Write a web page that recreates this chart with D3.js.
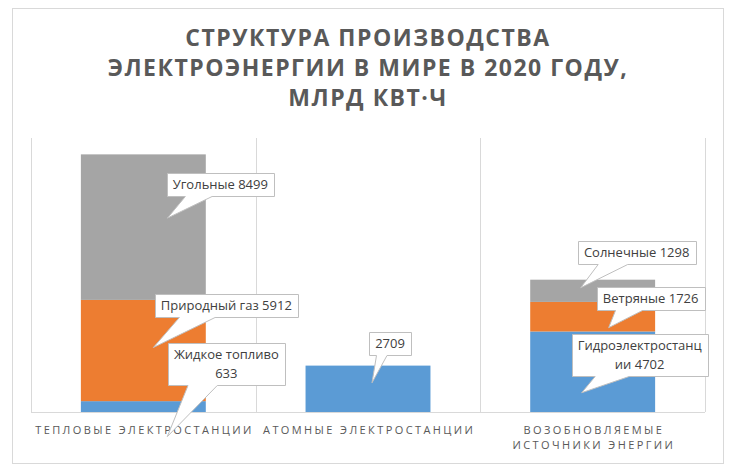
<html>
<head>
<meta charset="utf-8">
<script src="https://d3js.org/d3.v7.min.js"></script>
<style>
  body { margin: 0; background: white; }
  .title { font-family: "Open Sans"; font-weight: bold; font-size: 23px; fill: #595959; letter-spacing: 1.5px; }
  .cat { font-family: "Open Sans"; font-size: 11px; fill: #595959; letter-spacing: 2.4px; }
  .callout text { font-family: "Open Sans"; font-size: 13px; fill: #404040; }
  .callout path { fill: white; stroke: #bfbfbf; stroke-width: 1px; }
  .grid { stroke: #d9d9d9; stroke-width: 1px; }
</style>
</head>
<body>
<svg id="chart" width="736" height="471"></svg>
<script>
  // data
  const categories = ["ТЕПЛОВЫЕ ЭЛЕКТРОСТАНЦИИ", "АТОМНЫЕ ЭЛЕКТРОСТАНЦИИ", "ВОЗОБНОВЛЯЕМЫЕ ИСТОЧНИКИ ЭНЕРГИИ"];
  const categoryLines = [["ТЕПЛОВЫЕ ЭЛЕКТРОСТАНЦИИ"], ["АТОМНЫЕ ЭЛЕКТРОСТАНЦИИ"], ["ВОЗОБНОВЛЯЕМЫЕ", "ИСТОЧНИКИ ЭНЕРГИИ"]];
  const series1 = [633, 2709, 4702];   // blue
  const series2 = [5912, 0, 1726];     // orange
  const series3 = [8499, 0, 1298];     // grey
  const series1Names = ["Жидкое топливо", "", "Гидроэлектростанции"];
  const series2Names = ["Природный газ", "", "Ветряные"];
  const series3Names = ["Угольные", "", "Солнечные"];
  const titleLines = ["СТРУКТУРА ПРОИЗВОДСТВА", "ЭЛЕКТРОЭНЕРГИИ В МИРЕ В 2020 ГОДУ,", "МЛРД КВТ·Ч"];

  // label text as it wraps in the picture
  const labelLines = {
    "0-0": ["Жидкое топливо", "633"],
    "2-0": ["Гидроэлектростанц", "ии 4702"]
  };
  // callout placement: [box centre dx, dy, tip dx, dy] relative to segment centre
  const calloutOffsets = {
    "0-0": [83, -43, 24, 30],
    "0-1": [83, -45, 10, -3],
    "0-2": [77, -43, 24, -9],
    "1-0": [22, -45, 4, -6],
    "2-0": [47, -17, -11, 21],
    "2-1": [58, -18, 16, 11],
    "2-2": [44, -38, -12, -3]
  };

  const colors = ["#5b9bd5", "#ed7d31", "#a5a5a5"];
  const svg = d3.select("#chart");

  svg.append("rect")
    .attr("x", 12.5).attr("y", 8.5).attr("width", 711).attr("height", 455)
    .attr("fill", "white").attr("stroke", "#d9d9d9");

  svg.append("text").attr("class", "title")
    .attr("text-anchor", "middle")
    .selectAll("tspan").data(titleLines).join("tspan")
    .attr("x", 368).attr("y", (d, i) => 46 + i * 30)
    .text(d => d);

  const x = d3.scaleBand().domain(categories).range([31, 705]).paddingInner(0.444).paddingOuter(0.222);
  const y = d3.scaleLinear().domain([0, 16000]).range([412, 138]);

  // vertical separators between categories
  const bounds = [x.range()[0]].concat(categories.map(c => x(c) - x.step() * x.paddingOuter() + x.step()));
  svg.selectAll("line.grid").data(bounds).join("line")
    .attr("class", "grid")
    .attr("x1", d => Math.round(d) + 0.5).attr("x2", d => Math.round(d) + 0.5)
    .attr("y1", y(16000)).attr("y2", y(0));

  // stacked bars
  const rows = categories.map((c, i) => ({ cat: c, s1: series1[i], s2: series2[i], s3: series3[i] }));
  const stack = d3.stack().keys(["s1", "s2", "s3"])(rows);
  const names = [series1Names, series2Names, series3Names];

  svg.append("g").selectAll("g").data(stack).join("g")
    .attr("fill", (d, i) => colors[i])
    .selectAll("rect").data(d => d).join("rect")
    .attr("x", d => x(d.data.cat))
    .attr("width", x.bandwidth())
    .attr("y", d => y(d[1]))
    .attr("height", d => y(d[0]) - y(d[1]));

  svg.append("line").attr("class", "grid")
    .attr("x1", x.range()[0]).attr("x2", x.range()[1])
    .attr("y1", y(0) + 0.5).attr("y2", y(0) + 0.5);

  // category labels
  categories.forEach((c, i) => {
    svg.append("text").attr("class", "cat").attr("text-anchor", "middle")
      .selectAll("tspan").data(categoryLines[i]).join("tspan")
      .attr("x", x(c) + x.bandwidth() / 2 + 1.2)
      .attr("y", (d, j) => 434 + j * 15)
      .text(d => d);
  });

  // Excel-like wedge rectangle callout
  function wedgePath(l, t, w, h, tx, ty) {
    const r = l + w, b = t + h;
    const dx = tx - (l + w / 2), dy = ty - (t + h / 2);
    const dz = Math.abs(dy) - Math.abs(dx * h / w);
    const x1 = l + w * (dx > 0 ? 7 : 2) / 12, x2 = l + w * (dx > 0 ? 10 : 5) / 12;
    const y1 = t + h * (dy > 0 ? 7 : 2) / 12, y2 = t + h * (dy > 0 ? 10 : 5) / 12;
    let p = [[l, t]];
    if (dz > 0 && dy < 0) p.push([x1, t], [tx, ty], [x2, t]);
    p.push([r, t]);
    if (dz <= 0 && dx > 0) p.push([r, y1], [tx, ty], [r, y2]);
    p.push([r, b]);
    if (dz > 0 && dy > 0) p.push([x2, b], [tx, ty], [x1, b]);
    p.push([l, b]);
    if (dz <= 0 && dx < 0) p.push([l, y2], [tx, ty], [l, y1]);
    return "M" + p.map(q => q[0] + "," + q[1]).join("L") + "Z";
  }

  const callouts = svg.append("g");
  stack.forEach((s, si) => {
    s.forEach((d, ci) => {
      const v = d[1] - d[0];
      if (!v) return;
      const key = ci + "-" + si;
      const off = calloutOffsets[key];
      const cx = x(d.data.cat) + x.bandwidth() / 2;
      const cy = (y(d[0]) + y(d[1])) / 2;
      const name = names[si][ci];
      const lines = labelLines[key] || [(name ? name + " " : "") + v];
      const g = callouts.append("g").attr("class", "callout");
      const path = g.append("path");
      const txt = g.append("text").attr("text-anchor", "middle");
      txt.selectAll("tspan").data(lines).join("tspan")
        .attr("x", cx + off[0])
        .attr("y", (t, j) => cy + off[1] + (j - (lines.length - 1) / 2) * 19 + 4.5)
        .text(t => t);
      const tw = d3.max(txt.selectAll("tspan").nodes(), n => n.getComputedTextLength());
      const bw = Math.round(tw + 12), bh = lines.length * 19 + 4;
      const l = Math.round(cx + off[0] - bw / 2) + 0.5, t = Math.round(cy + off[1] - bh / 2) + 0.5;
      path.attr("d", wedgePath(l, t, bw, bh, cx + off[2], cy + off[3]));
    });
  });
</script>
</body>
</html>
